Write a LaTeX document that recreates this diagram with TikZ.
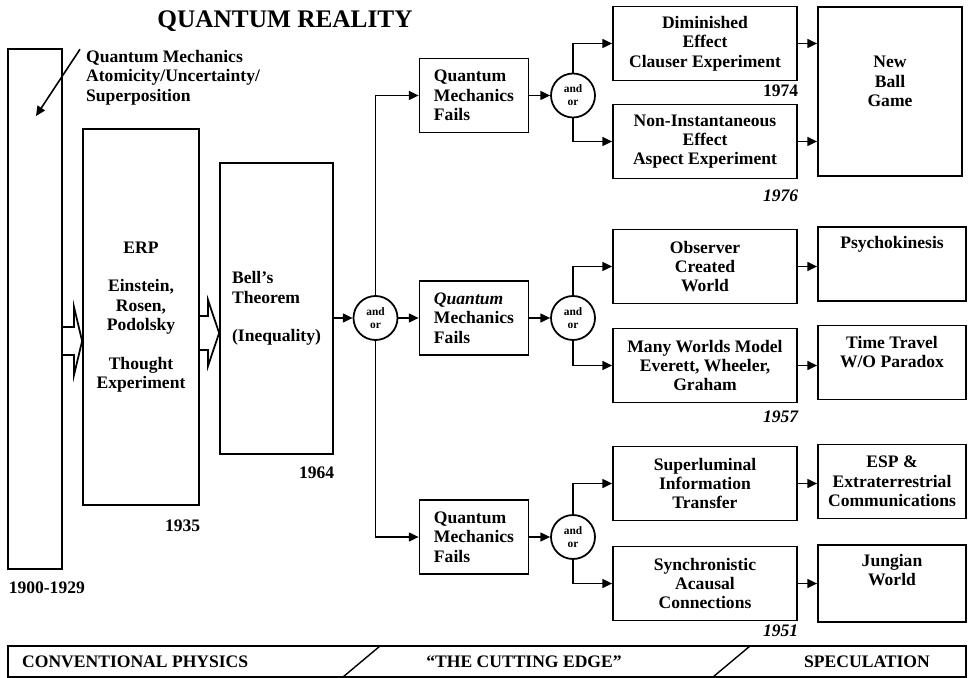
\documentclass[tikz,border=0pt]{standalone}
\usepackage{fontspec}
\setmainfont{Liberation Serif}
\usetikzlibrary{positioning, arrows.meta}

\begin{document}
\begin{tikzpicture}[x=0.02cm, y=-0.02cm, font=\bfseries\fontsize{10}{11}\selectfont,
    >={Triangle[length=5.5pt, width=5pt]},
    box/.style={draw, line width=1pt, align=center, minimum width=3.68cm, minimum height=1.48cm},
    fail/.style={box, align=left, minimum width=2.18cm},
    specbox/.style={box, minimum width=2.96cm},
    andor/.style={draw, circle, line width=1pt, minimum size=0.88cm, inner sep=0pt, align=center,
        font=\bfseries\fontsize{6.5}{7.5}\selectfont},
    year/.style={inner sep=3pt},
    toplab/.style={anchor=north, align=center},
    hollow/.style={draw, line width=1pt, line join=miter},
    link/.style={->, line width=0.9pt}]
    \useasboundingbox (0,0) rectangle (969,678);

    \node[font=\bfseries\fontsize{14.4}{16}\selectfont] (title) at (285,21) {QUANTUM REALITY};

    % conventional physics
    \node[box, minimum width=1.08cm, minimum height=10.4cm] (qm) at (35,309) {};
    \node[align=left, anchor=north west] (qmnote) at (80,44) {Quantum Mechanics\\Atomicity/Uncertainty/\\Superposition};
    \coordinate (qmhit) at (36,116);
    \node[box, minimum width=2.32cm, minimum height=7.52cm] (erp) at (141,317)
        {ERP\\[11pt]Einstein,\\Rosen,\\Podolsky\\[11pt]Thought\\Experiment};
    \node[box, align=left, minimum width=2.26cm, minimum height=5.82cm] (bell) at (276.5,308.5)
        {Bell’s\\Theorem\\[11pt](Inequality)};

    \node[year, below right=0.12cm and -0.08cm of qm.south west] (y1900) {1900-1929};
    \node[year, below left=0.16cm and -0.12cm of erp.south east] (y1935) {1935};
    \node[year, below left=0.12cm and -0.12cm of bell.south east] (y1964) {1964};

    % the cutting edge
    \node[andor] (andor1) at (375.5,318) {and\\or};
    \node[fail] (fail1) at (474,95.5) {Quantum\\Mechanics\\Fails};
    \node[fail] (fail2) at (474,318) {\itshape Quantum\\Mechanics\\Fails};
    \node[fail] (fail3) at (474,537) {Quantum\\Mechanics\\Fails};
    \node[andor] (andor2) at (573,95.5) {and\\or};
    \node[andor] (andor3) at (573,318) {and\\or};
    \node[andor] (andor4) at (573,537) {and\\or};

    \node[box] (dim) at (705,43.5) {Diminished\\Effect\\Clauser Experiment};
    \node[box] (nonin) at (705,141.5) {Non-Instantaneous\\Effect\\Aspect Experiment};
    \node[box] (obs) at (705,266.5) {Observer\\Created\\World};
    \node[box] (many) at (705,365.5) {Many Worlds Model\\Everett, Wheeler,\\Graham};
    \node[box] (super) at (705,483.5) {Superluminal\\Information\\Transfer};
    \node[box] (sync) at (705,583.5) {Synchronistic\\Acausal\\Connections};

    \node[year, below left=-0.05cm and -0.12cm of dim.south east] (y1974) {1974};
    \node[year, below left=0.09cm and -0.12cm of nonin.south east] (y1976) {\itshape 1976};
    \node[year, below left=0.03cm and -0.12cm of many.south east] (y1957) {\itshape 1957};
    \node[year, below left=-0.05cm and -0.12cm of sync.south east] (y1951) {\itshape 1951};

    % speculation
    \node[box, minimum width=2.88cm, minimum height=3.38cm,
        label={[toplab, yshift=-25pt]north:{New\\Ball\\Game}}] (newball) at (890,91.5) {};
    \node[specbox, label={[toplab, yshift=-2pt]north:Psychokinesis}] (psycho) at (892,264) {};
    \node[specbox, label={[toplab, yshift=-3pt]north:{Time Travel\\W/O Paradox}}] (time) at (892,362.5) {};
    \node[specbox] (esp) at (892,481.5) {ESP \&\\Extraterrestrial\\Communications};
    \node[specbox, minimum height=1.54cm, label={[toplab, yshift=-2.3pt]north:{Jungian\\World}}] (jung) at (892,583.5) {};

    % hollow arrows
    \draw[hollow] (qm.east |- 0,327) -- (74,327) -- (74,307) -- (erp.west |- 0,341)
        -- (74,375) -- (74,355) -- (qm.east |- 0,355);
    \draw[hollow] (erp.east |- 0,316) -- (208,316) -- (208,300) -- (bell.west |- 0,333)
        -- (208,366) -- (208,350) -- (erp.east |- 0,350);

    \draw[link] ([yshift=-3pt]qmnote.north west) -- (qmhit);
    \draw[link] (bell.east |- andor1) -- (andor1);
    \draw[link] (andor1) |- (fail1);
    \draw[link] (andor1) -- (fail2);
    \draw[link] (andor1) |- (fail3);
    \draw[link] (fail1) -- (andor2);
    \draw[link] (fail2) -- (andor3);
    \draw[link] (fail3) -- (andor4);
    \draw[link] (andor2) |- (dim);
    \draw[link] (andor2) |- (nonin);
    \draw[link] (andor3) |- (obs);
    \draw[link] (andor3) |- (many);
    \draw[link] (andor4) |- (super);
    \draw[link] (andor4) |- (sync);
    \draw[link] (dim) -- (dim -| newball.west);
    \draw[link] (nonin) -- (nonin -| newball.west);
    \draw[link] (obs) -- (obs -| psycho.west);
    \draw[link] (many) -- (many -| time.west);
    \draw[link] (super) -- (super -| esp.west);
    \draw[link] (sync) -- (sync -| jung.west);

    % bottom bar
    \node[draw, line width=1pt, minimum width=19.16cm, minimum height=0.62cm, inner sep=0pt] (bar) at (487,661.5) {};
    \draw[line width=0.8pt] (343,677) -- (380,646);
    \draw[line width=0.8pt] (713,677) -- (750,646);
    \node[anchor=west] (conv) at (16,662) {CONVENTIONAL PHYSICS};
    \node (cutting) at (524,662) {“THE CUTTING EDGE”};
    \node (spec) at (867,662) {SPECULATION};
\end{tikzpicture}
\end{document}
